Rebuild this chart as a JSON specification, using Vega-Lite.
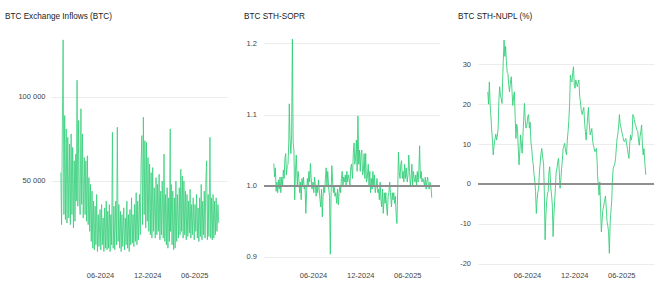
{
"$schema": "https://vega.github.io/schema/vega-lite/v6.json",
"padding": {"left": 5, "top": 11, "right": 5, "bottom": 5},
"spacing": 17,
"config": {
  "view": {"stroke": null},
  "font": "Liberation Sans",
  "title": {"anchor": "start", "fontSize": 8.2, "fontWeight": "normal", "color": "#1a1a1a", "offset": 4, "font": "Liberation Sans"},
  "axis": {"labelFont": "Liberation Sans", "labelFontSize": 7.5, "labelColor": "#444", "domain": false, "ticks": false, "title": null, "gridColor": "#ececec", "gridWidth": 1}
},
"data": {"values": [
{"d":"2024-01-01","i":55000,"s":1.031,"n":23.1},
{"d":"2024-01-04","i":24000,"s":1.012,"n":20},
{"d":"2024-01-07","i":82000,"s":1.025,"n":25.6},
{"d":"2024-01-10","i":134000,"s":0.992,"n":20},
{"d":"2024-01-13","i":30000,"s":1.005,"n":17},
{"d":"2024-01-16","i":89000,"s":0.99,"n":13.5},
{"d":"2024-01-19","i":27000,"s":1.008,"n":11},
{"d":"2024-01-22","i":81000,"s":0.995,"n":7.3},
{"d":"2024-01-25","i":25000,"s":1.012,"n":9.5},
{"d":"2024-01-28","i":76000,"s":0.99,"n":11},
{"d":"2024-02-01","i":28000,"s":1.012,"n":12.5},
{"d":"2024-02-04","i":72000,"s":1.0,"n":11},
{"d":"2024-02-07","i":24000,"s":1.022,"n":12},
{"d":"2024-02-10","i":78000,"s":1.01,"n":14},
{"d":"2024-02-13","i":30000,"s":1.038,"n":21},
{"d":"2024-02-16","i":70000,"s":1.045,"n":24.4},
{"d":"2024-02-19","i":22000,"s":1.015,"n":22},
{"d":"2024-02-22","i":62000,"s":1.028,"n":21.5},
{"d":"2024-02-25","i":26000,"s":1.03,"n":20.2},
{"d":"2024-02-28","i":66000,"s":1.06,"n":27},
{"d":"2024-03-01","i":38000,"s":1.115,"n":31},
{"d":"2024-03-04","i":110000,"s":1.066,"n":36.1},
{"d":"2024-03-07","i":35000,"s":1.045,"n":32},
{"d":"2024-03-10","i":86000,"s":1.07,"n":34.5},
{"d":"2024-03-13","i":40000,"s":1.206,"n":31},
{"d":"2024-03-16","i":30000,"s":1.06,"n":28},
{"d":"2024-03-19","i":93000,"s":1.05,"n":27.7},
{"d":"2024-03-22","i":36000,"s":0.98,"n":25},
{"d":"2024-03-25","i":78000,"s":1.02,"n":23.1},
{"d":"2024-03-28","i":28000,"s":1.043,"n":25},
{"d":"2024-04-01","i":64000,"s":1.0,"n":26.9},
{"d":"2024-04-04","i":30000,"s":1.02,"n":23},
{"d":"2024-04-07","i":62000,"s":1.01,"n":19.7},
{"d":"2024-04-10","i":26000,"s":0.99,"n":22},
{"d":"2024-04-13","i":65000,"s":1.005,"n":23.1},
{"d":"2024-04-16","i":24000,"s":0.98,"n":17},
{"d":"2024-04-19","i":52000,"s":1.01,"n":11.4},
{"d":"2024-04-22","i":20000,"s":1.0,"n":15},
{"d":"2024-04-25","i":48000,"s":1.012,"n":13.9},
{"d":"2024-04-28","i":14000,"s":0.995,"n":9},
{"d":"2024-05-01","i":44000,"s":1.0,"n":4.8},
{"d":"2024-05-04","i":10000,"s":0.961,"n":8},
{"d":"2024-05-07","i":38000,"s":0.99,"n":12.3},
{"d":"2024-05-10","i":9000,"s":1.01,"n":10},
{"d":"2024-05-13","i":35000,"s":1.0,"n":7.7},
{"d":"2024-05-16","i":12000,"s":1.02,"n":12},
{"d":"2024-05-19","i":42000,"s":1.005,"n":16},
{"d":"2024-05-22","i":8000,"s":1.031,"n":20.2},
{"d":"2024-05-25","i":30000,"s":1.01,"n":16},
{"d":"2024-05-28","i":11000,"s":0.995,"n":14},
{"d":"2024-06-01","i":33000,"s":1.005,"n":15},
{"d":"2024-06-04","i":9000,"s":0.99,"n":17},
{"d":"2024-06-07","i":36000,"s":1.012,"n":17.4},
{"d":"2024-06-10","i":12000,"s":1.0,"n":14},
{"d":"2024-06-13","i":28000,"s":0.985,"n":15.5},
{"d":"2024-06-16","i":8000,"s":1.0,"n":10.6},
{"d":"2024-06-19","i":34000,"s":0.99,"n":9},
{"d":"2024-06-22","i":10000,"s":1.008,"n":6.4},
{"d":"2024-06-25","i":38000,"s":0.995,"n":5},
{"d":"2024-06-28","i":9000,"s":0.98,"n":2.3},
{"d":"2024-07-01","i":32000,"s":0.97,"n":1},
{"d":"2024-07-04","i":10000,"s":0.995,"n":-1.9},
{"d":"2024-07-07","i":36000,"s":0.956,"n":-7.4},
{"d":"2024-07-10","i":8000,"s":0.985,"n":-4},
{"d":"2024-07-13","i":30000,"s":1.0,"n":-2},
{"d":"2024-07-16","i":12000,"s":0.99,"n":-1.1},
{"d":"2024-07-19","i":79000,"s":1.01,"n":3},
{"d":"2024-07-22","i":10000,"s":1.025,"n":5.2},
{"d":"2024-07-25","i":35000,"s":1.0,"n":7.5},
{"d":"2024-07-28","i":9000,"s":1.02,"n":8.9},
{"d":"2024-08-01","i":38000,"s":0.995,"n":6.5},
{"d":"2024-08-04","i":12000,"s":0.985,"n":5.2},
{"d":"2024-08-07","i":82000,"s":0.9035,"n":-2},
{"d":"2024-08-10","i":14000,"s":0.99,"n":-14},
{"d":"2024-08-13","i":36000,"s":1.028,"n":-8},
{"d":"2024-08-16","i":10000,"s":1.005,"n":-4.4},
{"d":"2024-08-19","i":32000,"s":0.99,"n":-2.5},
{"d":"2024-08-22","i":8000,"s":1.0,"n":-1.9},
{"d":"2024-08-25","i":30000,"s":0.985,"n":3},
{"d":"2024-08-28","i":11000,"s":0.99,"n":4.3},
{"d":"2024-09-01","i":34000,"s":0.975,"n":-1},
{"d":"2024-09-04","i":9000,"s":0.995,"n":-2.8},
{"d":"2024-09-07","i":28000,"s":0.973,"n":-5.3},
{"d":"2024-09-10","i":12000,"s":0.99,"n":-13.2},
{"d":"2024-09-13","i":38000,"s":1.0,"n":-8},
{"d":"2024-09-16","i":10000,"s":0.99,"n":-4.4},
{"d":"2024-09-19","i":30000,"s":1.01,"n":-1},
{"d":"2024-09-22","i":8000,"s":1.02,"n":3},
{"d":"2024-09-25","i":33000,"s":1.0,"n":4},
{"d":"2024-09-28","i":12000,"s":1.012,"n":5.5},
{"d":"2024-10-01","i":40000,"s":1.005,"n":6.4},
{"d":"2024-10-04","i":13000,"s":1.015,"n":3},
{"d":"2024-10-07","i":30000,"s":1.0,"n":-1.1},
{"d":"2024-10-10","i":11000,"s":1.02,"n":1},
{"d":"2024-10-13","i":36000,"s":1.005,"n":3.9},
{"d":"2024-10-16","i":14000,"s":1.015,"n":6},
{"d":"2024-10-19","i":43000,"s":1.01,"n":8.9},
{"d":"2024-10-22","i":12000,"s":1.0,"n":9.5},
{"d":"2024-10-25","i":38000,"s":1.025,"n":10.2},
{"d":"2024-10-28","i":15000,"s":1.03,"n":8.5},
{"d":"2024-11-01","i":42000,"s":1.01,"n":7.3},
{"d":"2024-11-04","i":18000,"s":1.045,"n":11},
{"d":"2024-11-07","i":60000,"s":1.06,"n":13.1},
{"d":"2024-11-10","i":77000,"s":1.03,"n":16},
{"d":"2024-11-13","i":24000,"s":1.04,"n":20},
{"d":"2024-11-16","i":88000,"s":1.064,"n":27.3},
{"d":"2024-11-19","i":30000,"s":1.02,"n":26},
{"d":"2024-11-22","i":74000,"s":1.098,"n":25.6},
{"d":"2024-11-25","i":22000,"s":1.03,"n":28},
{"d":"2024-11-28","i":73000,"s":1.05,"n":29.4},
{"d":"2024-12-01","i":26000,"s":1.02,"n":25},
{"d":"2024-12-04","i":64000,"s":1.045,"n":24},
{"d":"2024-12-07","i":20000,"s":1.05,"n":26.1},
{"d":"2024-12-10","i":60000,"s":1.015,"n":25},
{"d":"2024-12-13","i":18000,"s":1.02,"n":24.4},
{"d":"2024-12-16","i":55000,"s":1.045,"n":25.5},
{"d":"2024-12-19","i":16000,"s":1.01,"n":26.1},
{"d":"2024-12-22","i":58000,"s":1.045,"n":22},
{"d":"2024-12-25","i":20000,"s":1.005,"n":20.6},
{"d":"2024-12-28","i":46000,"s":1.01,"n":18.5},
{"d":"2025-01-01","i":16000,"s":1.03,"n":17.4},
{"d":"2025-01-04","i":52000,"s":1.0,"n":18.5},
{"d":"2025-01-07","i":18000,"s":1.02,"n":19.2},
{"d":"2025-01-10","i":48000,"s":0.99,"n":15.5},
{"d":"2025-01-13","i":20000,"s":1.01,"n":13.1},
{"d":"2025-01-16","i":54000,"s":0.995,"n":11},
{"d":"2025-01-19","i":15000,"s":1.02,"n":14},
{"d":"2025-01-22","i":44000,"s":1.0,"n":17},
{"d":"2025-01-25","i":18000,"s":1.015,"n":19.2},
{"d":"2025-01-28","i":50000,"s":0.99,"n":15},
{"d":"2025-02-01","i":16000,"s":1.0,"n":12.3},
{"d":"2025-02-04","i":66000,"s":1.01,"n":13},
{"d":"2025-02-07","i":14000,"s":0.99,"n":13.9},
{"d":"2025-02-10","i":42000,"s":0.995,"n":11},
{"d":"2025-02-13","i":12000,"s":0.98,"n":9.7},
{"d":"2025-02-16","i":46000,"s":1.005,"n":9},
{"d":"2025-02-19","i":10000,"s":0.98,"n":8.1},
{"d":"2025-02-22","i":40000,"s":0.97,"n":8.5},
{"d":"2025-02-25","i":14000,"s":0.995,"n":8.9},
{"d":"2025-02-28","i":81000,"s":0.961,"n":5},
{"d":"2025-03-01","i":20000,"s":0.965,"n":2.3},
{"d":"2025-03-04","i":48000,"s":0.99,"n":0},
{"d":"2025-03-07","i":12000,"s":0.975,"n":-2.8},
{"d":"2025-03-10","i":44000,"s":0.99,"n":0.5},
{"d":"2025-03-13","i":9000,"s":0.97,"n":-6},
{"d":"2025-03-16","i":40000,"s":0.958,"n":-12},
{"d":"2025-03-19","i":10000,"s":0.985,"n":-9},
{"d":"2025-03-22","i":50000,"s":0.99,"n":-6.5},
{"d":"2025-03-25","i":14000,"s":1.005,"n":-5.5},
{"d":"2025-03-28","i":42000,"s":0.99,"n":-4.4},
{"d":"2025-04-01","i":16000,"s":0.97,"n":-3},
{"d":"2025-04-04","i":46000,"s":0.99,"n":-6},
{"d":"2025-04-07","i":18000,"s":0.98,"n":-9.5},
{"d":"2025-04-10","i":57000,"s":0.99,"n":-10.5},
{"d":"2025-04-13","i":20000,"s":0.975,"n":-12},
{"d":"2025-04-16","i":53000,"s":0.985,"n":-17.4},
{"d":"2025-04-19","i":16000,"s":0.96,"n":-10},
{"d":"2025-04-22","i":50000,"s":0.9466,"n":-7},
{"d":"2025-04-25","i":18000,"s":0.99,"n":-4.4},
{"d":"2025-04-28","i":44000,"s":1.047,"n":1},
{"d":"2025-05-01","i":15000,"s":1.02,"n":3.9},
{"d":"2025-05-04","i":42000,"s":1.01,"n":4.5},
{"d":"2025-05-07","i":17000,"s":1.03,"n":5},
{"d":"2025-05-10","i":38000,"s":1.035,"n":6.4},
{"d":"2025-05-13","i":19000,"s":1.01,"n":9},
{"d":"2025-05-16","i":45000,"s":1.02,"n":11.4},
{"d":"2025-05-19","i":16000,"s":1.005,"n":12.5},
{"d":"2025-05-22","i":36000,"s":1.03,"n":14.5},
{"d":"2025-05-25","i":18000,"s":1.01,"n":17.4},
{"d":"2025-05-28","i":40000,"s":1.025,"n":15},
{"d":"2025-06-01","i":15000,"s":1.005,"n":13.9},
{"d":"2025-06-04","i":36000,"s":1.015,"n":12.8},
{"d":"2025-06-07","i":20000,"s":1.043,"n":12},
{"d":"2025-06-10","i":42000,"s":1.02,"n":11},
{"d":"2025-06-13","i":16000,"s":1.0,"n":10.6},
{"d":"2025-06-16","i":34000,"s":1.01,"n":11},
{"d":"2025-06-19","i":14000,"s":1.03,"n":11.4},
{"d":"2025-06-22","i":40000,"s":1.0,"n":10},
{"d":"2025-06-25","i":17000,"s":1.02,"n":8.9},
{"d":"2025-06-28","i":48000,"s":1.01,"n":7.5},
{"d":"2025-07-01","i":15000,"s":1.005,"n":6.4},
{"d":"2025-07-04","i":38000,"s":1.015,"n":10},
{"d":"2025-07-07","i":18000,"s":1.0,"n":12.3},
{"d":"2025-07-10","i":44000,"s":1.02,"n":11},
{"d":"2025-07-13","i":16000,"s":1.005,"n":12},
{"d":"2025-07-16","i":50000,"s":1.02,"n":17.4},
{"d":"2025-07-19","i":62000,"s":1.056,"n":17},
{"d":"2025-07-22","i":15000,"s":1.01,"n":16.1},
{"d":"2025-07-25","i":42000,"s":1.02,"n":15},
{"d":"2025-07-28","i":17000,"s":1.005,"n":14.5},
{"d":"2025-08-01","i":76000,"s":1.01,"n":13.5},
{"d":"2025-08-04","i":16000,"s":1.005,"n":13.1},
{"d":"2025-08-07","i":40000,"s":1.0,"n":11},
{"d":"2025-08-10","i":15000,"s":1.012,"n":9.7},
{"d":"2025-08-13","i":42000,"s":0.995,"n":12},
{"d":"2025-08-16","i":16000,"s":1.005,"n":13.1},
{"d":"2025-08-19","i":38000,"s":1.012,"n":14.8},
{"d":"2025-08-22","i":18000,"s":1.0,"n":10},
{"d":"2025-08-25","i":40000,"s":0.995,"n":7.3},
{"d":"2025-08-28","i":20000,"s":1.005,"n":8.9},
{"d":"2025-09-01","i":36000,"s":1.0,"n":5},
{"d":"2025-09-04","i":25000,"s":0.983,"n":2.3}
]},
"hconcat": [
{
  "title": "BTC Exchange Inflows (BTC)",
  "width": 176, "height": 240,
  "mark": {"type": "line", "color": "#36cf7b", "strokeWidth": 0.8},
  "encoding": {
    "x": {"field": "d", "type": "temporal",
      "scale": {"type": "utc", "domain": [{"year": 2023, "month": 11, "date": 24, "utc": true}, {"year": 2025, "month": 10, "date": 6, "utc": true}]},
      "axis": {"values": [{"year": 2024, "month": 6, "date": 1, "utc": true}, {"year": 2024, "month": 12, "date": 1, "utc": true}, {"year": 2025, "month": 6, "date": 1, "utc": true}], "format": "%m-%Y", "grid": false, "labelPadding": 6}},
    "y": {"field": "i", "type": "quantitative",
      "scale": {"domain": [0, 142857], "nice": false, "zero": false},
      "axis": {"values": [50000, 100000], "labelExpr": "replace(format(datum.value, ','), ',', ' ')", "labelPadding": 6, "minExtent": 46, "maxExtent": 46}}
  }
},
{
  "title": "BTC STH-SOPR",
  "width": 176, "height": 240,
  "layer": [
    {"mark": {"type": "line", "color": "#36cf7b", "strokeWidth": 0.9},
     "encoding": {
      "x": {"field": "d", "type": "temporal",
        "scale": {"type": "utc", "domain": [{"year": 2023, "month": 11, "date": 24, "utc": true}, {"year": 2025, "month": 10, "date": 6, "utc": true}]},
        "axis": {"values": [{"year": 2024, "month": 6, "date": 1, "utc": true}, {"year": 2024, "month": 12, "date": 1, "utc": true}, {"year": 2025, "month": 6, "date": 1, "utc": true}], "format": "%m-%Y", "grid": false, "labelPadding": 6}},
      "y": {"field": "s", "type": "quantitative",
        "scale": {"domain": [0.8883, 1.2259], "nice": false, "zero": false},
        "axis": {"values": [0.9, 1.0, 1.1, 1.2], "format": ".1f", "labelPadding": 7.5, "minExtent": 20, "maxExtent": 20}}
     }},
    {"mark": {"type": "rule", "color": "#8f8f8f", "strokeWidth": 1}, "encoding": {"y": {"datum": 1.0}}}
  ]
},
{
  "title": "BTC STH-NUPL (%)",
  "width": 176, "height": 240,
  "layer": [
    {"mark": {"type": "line", "color": "#36cf7b", "strokeWidth": 0.9},
     "encoding": {
      "x": {"field": "d", "type": "temporal",
        "scale": {"type": "utc", "domain": [{"year": 2023, "month": 11, "date": 24, "utc": true}, {"year": 2025, "month": 10, "date": 6, "utc": true}]},
        "axis": {"values": [{"year": 2024, "month": 6, "date": 1, "utc": true}, {"year": 2024, "month": 12, "date": 1, "utc": true}, {"year": 2025, "month": 6, "date": 1, "utc": true}], "format": "%m-%Y", "grid": false, "labelPadding": 6}},
      "y": {"field": "n", "type": "quantitative",
        "scale": {"domain": [-20.33, 39.87], "nice": false, "zero": false},
        "axis": {"values": [-20, -10, 0, 10, 20, 30], "labelExpr": "'' + datum.value", "labelPadding": 7.5, "minExtent": 20, "maxExtent": 20}}
     }},
    {"mark": {"type": "rule", "color": "#8f8f8f", "strokeWidth": 1}, "encoding": {"y": {"datum": 0}}}
  ]
}
]
}
